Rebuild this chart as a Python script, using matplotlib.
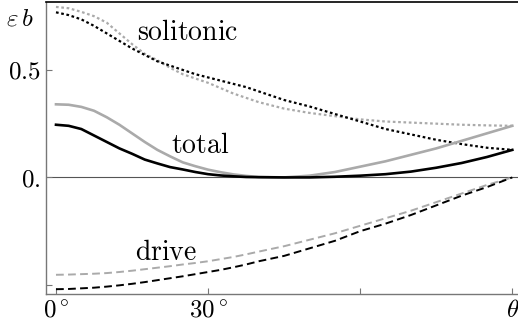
import matplotlib
matplotlib.use("Agg")
import matplotlib.pyplot as plt

plt.rcParams.update({
    "mathtext.fontset": "cm",
    "font.family": "serif",
    "font.serif": ["DejaVu Serif"],
})

# angle in degrees (finer steps where the curves bend most)
theta = [0, 2.5, 5, 7.5, 10, 12.5, 15, 17.5, 20, 22.5, 25, 27.5, 30, 32.5, 35, 37.5, 40,
         45, 50, 55, 60, 65, 70, 75, 80, 85, 90]

# black set
sol_black = [0.768, 0.755, 0.735, 0.705, 0.67, 0.635, 0.60, 0.57, 0.54, 0.52, 0.50, 0.48,
             0.465, 0.45, 0.435, 0.42, 0.40,
             0.36, 0.33, 0.295, 0.26, 0.225, 0.20, 0.175, 0.155, 0.138, 0.128]
drive_black = [-0.52, -0.519, -0.516, -0.513, -0.508, -0.502, -0.495, -0.487, -0.478,
               -0.469, -0.46, -0.45, -0.44, -0.43, -0.418, -0.405, -0.39,
               -0.365, -0.33, -0.295, -0.25, -0.215, -0.175, -0.13, -0.085, -0.045, 0.0]
total_black = [0.245, 0.24, 0.225, 0.195, 0.165, 0.135, 0.11, 0.083, 0.065, 0.048, 0.037,
               0.025, 0.015, 0.009, 0.005, 0.002, 0.001,
               0.0, 0.0, 0.003, 0.008, 0.015, 0.027, 0.045, 0.067, 0.095, 0.128]

# gray set
sol_gray = [0.793, 0.787, 0.77, 0.75, 0.72, 0.67, 0.62, 0.575, 0.545, 0.51, 0.48, 0.46,
            0.44, 0.415, 0.39, 0.37, 0.35,
            0.32, 0.30, 0.285, 0.27, 0.26, 0.255, 0.25, 0.245, 0.242, 0.24]
drive_gray = [-0.453, -0.452, -0.45, -0.448, -0.445, -0.44, -0.434, -0.427, -0.42,
              -0.413, -0.405, -0.398, -0.39, -0.38, -0.37, -0.358, -0.345,
              -0.32, -0.29, -0.26, -0.225, -0.19, -0.155, -0.115, -0.075, -0.035, 0.0]
total_gray = [0.34, 0.338, 0.328, 0.31, 0.28, 0.245, 0.205, 0.165, 0.128, 0.098, 0.07,
              0.052, 0.036, 0.024, 0.014, 0.007, 0.002,
              0.0, 0.008, 0.025, 0.05, 0.075, 0.105, 0.135, 0.17, 0.205, 0.24]

xticks = [0, 30, 60, 90]
xticklabels = [r"$0^\circ$", r"$30^\circ$", "", r"$\theta$"]
yticks = [-0.5, 0, 0.5]
yticklabels = ["", r"$0.$", r"$0.5$"]

GRAY = "#aaaaaa"
AXC = "#777777"

fig = plt.figure(figsize=(5.18, 3.31), dpi=100)
ax = fig.add_axes([0.0888, 0.112, 0.912, 0.882])

ax.axhline(0, color="#555555", lw=0.8, zorder=1)

ax.plot(theta, sol_gray, color=GRAY, lw=1.6, ls=(0, (1.2, 1.2)))
ax.plot(theta, sol_black, color="black", lw=1.6, ls=(0, (1.2, 1.2)))
ax.plot(theta, drive_gray, color=GRAY, lw=1.4, ls=(0, (4, 2.2)))
ax.plot(theta, drive_black, color="black", lw=1.4, ls=(0, (4, 2.2)))
ax.plot(theta, total_gray, color=GRAY, lw=1.9)
ax.plot(theta, total_black, color="black", lw=1.9)

ax.set_xlim(-1.97, 91.2)
ax.set_ylim(-0.542, 0.816)
ax.set_xticks(xticks)
ax.set_xticklabels(xticklabels, fontsize=18)
ax.set_yticks(yticks)
ax.set_yticklabels(yticklabels, fontsize=18)
ax.tick_params(direction="in", length=4, color=AXC, width=0.8, pad=4)

ax.spines["right"].set_visible(False)
ax.spines["top"].set_color("black")
ax.spines["top"].set_linewidth(1.2)
for s in ("left", "bottom"):
    ax.spines[s].set_color(AXC)
    ax.spines[s].set_linewidth(1.0)

ax.text(-7.1, 0.735, r"$\varepsilon\, b$", fontsize=18, ha="center", va="center",
        clip_on=False)
ax.text(25.9, 0.675, r"$\mathrm{solitonic}$", fontsize=20, ha="center", va="center")
ax.text(28.4, 0.15, r"$\mathrm{total}$", fontsize=20, ha="center", va="center")
ax.text(21.7, -0.35, r"$\mathrm{drive}$", fontsize=20, ha="center", va="center")

fig.savefig("out.png", dpi=100)
